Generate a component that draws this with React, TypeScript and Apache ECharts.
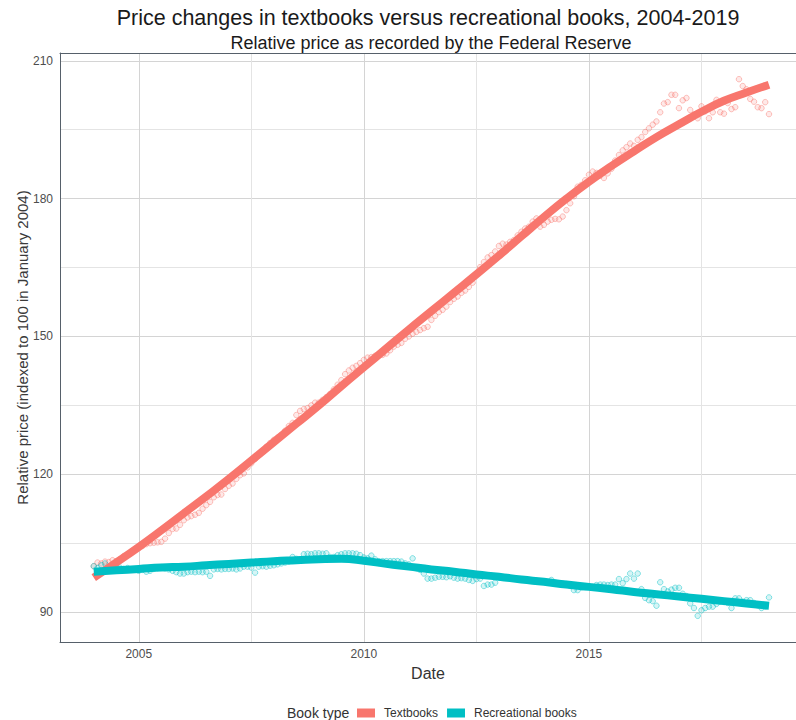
import React, { useEffect, useRef } from "react";
import * as echarts from "echarts";

// Monthly observations, January 2004 to January 2019
const START_YEAR = 2004;

const textbookValues = [
  100.0, 100.8, 100.6, 101.0, 100.9, 101.3, 101.1, 101.5, 102.2, 102.6, 103.2, 103.5,
  104.0, 104.4, 104.8, 105.0, 105.1, 105.2, 105.3, 106.0, 107.2, 108.1, 108.2, 109.0,
  110.0, 110.6, 110.9, 111.2, 111.6, 112.5, 113.3, 114.0, 115.0, 115.5, 115.6, 116.8,
  117.5, 118.0, 119.0, 119.8, 120.2, 121.5, 122.4, 123.3, 124.2, 125.0, 126.0, 126.8,
  127.5, 128.0, 128.5, 129.5, 130.5, 131.2, 132.9, 133.8, 134.2, 134.4, 135.0, 135.6,
  135.6, 136.2, 136.8, 137.5, 138.5, 139.5, 140.5, 141.8, 142.6, 143.2, 143.6, 144.2,
  144.9, 145.4, 145.5, 145.8, 146.0, 146.0, 146.3, 147.0, 147.8, 148.2, 148.6, 149.5,
  150.0, 150.6, 151.0, 151.4, 151.8, 152.1, 153.6, 154.5, 155.3, 155.8, 156.5, 157.5,
  158.2, 158.7, 159.5, 160.0, 160.8, 161.7, 163.5, 165.1, 166.2, 167.2, 167.7, 168.5,
  169.7, 170.2, 170.0, 170.6, 171.0, 172.0, 172.8, 173.5, 173.9, 175.0, 175.7, 173.9,
  174.3, 175.0, 175.4, 175.6, 175.5, 176.1, 177.5, 179.0, 180.5, 182.6, 183.0, 184.0,
  185.2, 185.9, 185.6, 185.0, 184.5, 185.5, 186.5, 188.3, 189.5, 190.5, 191.2, 192.0,
  191.5, 192.8, 193.4, 194.5, 195.3, 196.1, 196.8, 198.8, 200.7, 201.0, 202.6, 202.6,
  199.7, 201.4, 201.9, 199.3, 198.3, 197.5, 200.1, 199.0, 197.5, 198.8, 201.5, 198.8,
  198.5, 200.8, 199.5, 199.9, 206.0, 204.5, 203.8, 201.7, 201.1, 199.9, 199.7, 201.0,
  198.4,
];

const recreationalValues = [
  100.0, 99.6, 100.2, 100.6, 99.9, 99.5, 99.8, 99.7, 99.4, 99.6, 99.3, 99.2,
  99.0, 99.2, 98.8, 99.0, 99.4, 99.6, 99.8, 99.5, 99.3, 99.0, 98.7, 98.4,
  98.4, 98.7, 98.8, 98.7, 98.8, 98.7, 98.8, 97.9, 99.3, 99.4, 99.3, 99.4,
  99.4, 99.5, 99.3, 99.5, 99.9, 99.9, 99.7, 98.6, 99.9, 100.0, 99.9, 100.1,
  100.2, 100.4, 100.6, 100.8, 101.0, 102.0, 101.6, 101.4, 102.6, 102.7, 102.6, 102.8,
  102.8, 102.7, 102.8, 102.0, 102.0, 102.4, 102.6, 102.8, 102.8, 102.8, 102.7, 102.4,
  101.9, 101.7, 102.3, 101.5, 101.1, 101.1, 101.1, 101.1, 101.1, 101.1, 101.0, 100.6,
  100.4, 101.7, 99.6, 99.2, 98.4, 97.3, 97.3, 97.5, 97.7, 97.7, 97.6, 97.8,
  97.5, 97.3, 97.4, 97.3, 97.0, 96.8, 97.2, 97.3, 95.7, 96.0, 96.0, 96.4,
  97.6, 97.5, 97.6, 97.4, 97.3, 97.2, 97.1, 97.0, 97.0, 96.9, 96.8, 96.7,
  96.6, 96.5, 97.0, 96.4, 96.3, 96.2, 96.1, 95.7, 94.8, 94.8, 95.4, 95.6,
  95.6, 95.5, 95.9, 96.0, 96.0, 95.9, 96.0, 96.0, 97.2, 96.3, 97.2, 98.4,
  97.3, 98.4, 95.0, 93.1, 92.6, 92.4, 91.4, 96.5, 95.0, 94.5, 94.9, 95.3,
  95.3, 94.0, 93.5, 91.9, 90.9, 89.2, 90.4, 90.9, 91.2, 91.2, 91.8, 92.3,
  92.2, 92.0, 90.9, 93.0, 93.0, 92.3, 92.6, 92.6, 92.0, 91.5, 90.9, 91.2,
  93.2,
];

// Smoothed trend read at half-year steps
const smoothYears = [
  2004, 2004.5, 2005, 2005.5, 2006, 2006.5, 2007, 2007.5, 2008, 2008.5,
  2009, 2009.5, 2010, 2010.5, 2011, 2011.5, 2012, 2012.5, 2013, 2013.5,
  2014, 2014.5, 2015, 2015.5, 2016, 2016.5, 2017, 2017.5, 2018, 2018.5, 2019,
];
const textbookSmooth = [
  97.5, 100.8, 104.2, 107.8, 111.5, 115.2, 119.0, 123.0, 127.0, 131.0,
  135.0, 139.2, 143.3, 147.4, 151.5, 155.5, 159.5, 163.5, 167.6, 171.8,
  176.0, 180.0, 183.7, 187.1, 190.3, 193.4, 196.2, 198.9, 201.3, 203.1, 204.8,
];
const recreationalSmooth = [
  98.8, 99.1, 99.4, 99.7, 99.9, 100.2, 100.5, 100.8, 101.1, 101.3,
  101.5, 101.6, 101.2, 100.5, 99.9, 99.3, 98.8, 98.2, 97.7, 97.1,
  96.6, 96.0, 95.5, 95.0, 94.4, 93.9, 93.4, 92.9, 92.4, 91.9, 91.4,
];

const xMajorTicks = [2005, 2010, 2015];
const xMinorTicks = [2007.5, 2012.5, 2017.5];
const yMajorTicks = [90, 120, 150, 180, 210];
const yMinorTicks = [105, 135, 165, 195];

const TB = "#F8766D";
const RB = "#00BFC4";
const FONT = "'Liberation Sans', Arial, sans-serif";
const BORDER = "#56606a";
const MAJOR = "#d4d4d4";
const MINOR = "#e4e4e4";

export default function App() {
  const ref = useRef<HTMLDivElement>(null);

  useEffect(() => {
    if (!ref.current) return;
    const chart = echarts.init(ref.current, null, { renderer: "svg" });
    const toPoints = (vals: number[]) => vals.map((v, i) => [START_YEAR + i / 12, v]);
    const smoothPts = (vals: number[]) => smoothYears.map((y, i) => [y, vals[i]]);
    const X_MIN = 2003.25;
    const X_MAX = 2019.6;
    const Y_MIN = 83.5;
    const Y_MAX = 211.7;

    chart.setOption({
      animation: false,
      textStyle: { fontFamily: FONT },
      grid: { left: 60, right: 0, top: 53, bottom: 78, containLabel: false },
      xAxis: [
        {
          type: "value",
          min: X_MIN,
          max: X_MAX,
          position: "bottom",
          axisLine: { show: true, onZero: false, lineStyle: { color: BORDER, width: 1 } },
          axisTick: { show: false, customValues: xMajorTicks },
          axisLabel: {
            customValues: xMajorTicks,
            formatter: (v: number) => String(Math.round(v)),
            margin: 6,
            color: "#4d4d4d",
            fontSize: 12,
            fontFamily: FONT,
          },
          splitLine: { show: true, lineStyle: { color: MAJOR, width: 1 } },
          name: "Date",
          nameLocation: "middle",
          nameGap: 23,
          nameTextStyle: { fontSize: 16, color: "#333", fontFamily: FONT },
        },
        {
          type: "value",
          min: X_MIN,
          max: X_MAX,
          position: "top",
          axisLine: { show: true, onZero: false, lineStyle: { color: BORDER, width: 1 } },
          axisTick: { show: false, customValues: xMinorTicks },
          axisLabel: { show: false },
          splitLine: { show: true, lineStyle: { color: MINOR, width: 1 } },
        },
      ],
      yAxis: [
        {
          type: "value",
          min: Y_MIN,
          max: Y_MAX,
          position: "left",
          axisLine: { show: true, onZero: false, lineStyle: { color: BORDER, width: 1 } },
          axisTick: { show: false, customValues: yMajorTicks },
          axisLabel: { customValues: yMajorTicks, margin: 7, color: "#4d4d4d", fontSize: 12, fontFamily: FONT },
          splitLine: { show: true, lineStyle: { color: MAJOR, width: 1 } },
          name: "Relative price (indexed to 100 in January 2004)",
          nameLocation: "middle",
          nameGap: 30,
          nameRotate: 90,
          nameMoveOverlap: false,
          nameTextStyle: { fontSize: 15, color: "#3a3a3a", fontFamily: FONT },
        },
        {
          type: "value",
          min: Y_MIN,
          max: Y_MAX,
          position: "right",
          axisLine: { show: false },
          axisTick: { show: false, customValues: yMinorTicks },
          axisLabel: { show: false },
          splitLine: { show: true, lineStyle: { color: MINOR, width: 1 } },
        },
      ],
      legend: {
        left: 357,
        top: 707,
        padding: 0,
        itemGap: 9,
        itemWidth: 18,
        itemHeight: 9,
        icon: "rect",
        selectedMode: false,
        textStyle: { fontSize: 12, color: "#333", fontFamily: FONT, padding: [0, 0, 0, 4] },
        data: [
          { name: "Textbooks", itemStyle: { color: TB } },
          { name: "Recreational books", itemStyle: { color: RB } },
        ],
      },
      graphic: [
        {
          type: "text",
          x: 428,
          y: 18,
          style: {
            text: "Price changes in textbooks versus recreational books, 2004-2019",
            font: `21.5px ${FONT}`,
            fill: "#1a1a1a",
            textAlign: "center",
            textVerticalAlign: "middle",
          },
        },
        {
          type: "text",
          x: 431,
          y: 43,
          style: {
            text: "Relative price as recorded by the Federal Reserve",
            font: `18px ${FONT}`,
            fill: "#1a1a1a",
            textAlign: "center",
            textVerticalAlign: "middle",
          },
        },
        {
          type: "text",
          x: 287,
          y: 713,
          style: {
            text: "Book type",
            font: `14px ${FONT}`,
            fill: "#333",
            textAlign: "left",
            textVerticalAlign: "middle",
          },
        },
      ],
      series: [
        {
          name: "Textbooks points",
          type: "scatter",
          data: toPoints(textbookValues),
          symbol: "circle",
          symbolSize: 5.5,
          itemStyle: { color: "rgba(248,118,109,0.2)", borderColor: "rgba(248,118,109,0.55)", borderWidth: 1 },
          emphasis: { disabled: true },
        },
        {
          name: "Recreational points",
          type: "scatter",
          data: toPoints(recreationalValues),
          symbol: "circle",
          symbolSize: 5.5,
          itemStyle: { color: "rgba(0,191,196,0.2)", borderColor: "rgba(0,191,196,0.55)", borderWidth: 1 },
          emphasis: { disabled: true },
        },
        {
          name: "Textbooks",
          type: "line",
          data: smoothPts(textbookSmooth),
          smooth: true,
          symbol: "none",
          color: TB,
          lineStyle: { color: TB, width: 8, cap: "butt" },
          emphasis: { disabled: true },
        },
        {
          name: "Recreational books",
          type: "line",
          data: smoothPts(recreationalSmooth),
          smooth: true,
          symbol: "none",
          color: RB,
          lineStyle: { color: RB, width: 8, cap: "butt" },
          emphasis: { disabled: true },
        },
      ],
    });

    return () => chart.dispose();
  }, []);

  return (
    <div
      ref={ref}
      style={{ position: "absolute", left: 0, top: 0, width: 796, height: 720, background: "#fff" }}
    />
  );
}
